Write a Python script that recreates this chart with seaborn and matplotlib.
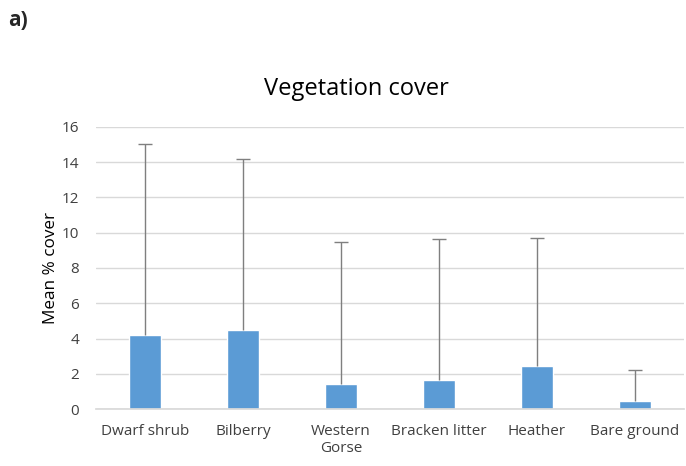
import matplotlib
matplotlib.use("Agg")
import matplotlib.pyplot as plt
import seaborn as sns
import numpy as np
import pandas as pd

categories = ["Dwarf shrub", "Bilberry", "Western\nGorse", "Bracken litter", "Heather", "Bare ground"]
means = [4.2, 4.5, 1.4, 1.65, 2.45, 0.45]
upper = [15.05, 14.2, 9.5, 9.65, 9.7, 2.2]
yticks = [0, 2, 4, 6, 8, 10, 12, 14, 16]

sns.set_theme(style="white")
plt.rcParams['font.family'] = ['Open Sans', 'DejaVu Sans']

df = pd.DataFrame({"cat": categories, "mean": means})
fig = plt.figure(figsize=(6.86, 4.66), dpi=100)
ax = fig.add_axes([0.14, 0.1223, 0.857, 0.6052])
sns.barplot(data=df, x="cat", y="mean", color="#5B9BD5", width=0.33, ax=ax, saturation=1)
err = np.array(upper) - np.array(means)
_, caps, _ = ax.errorbar(np.arange(len(categories)), means, yerr=[np.zeros(len(means)), err],
                         fmt="none", ecolor="#7f7f7f", elinewidth=1, capsize=5, capthick=1)
caps[0].remove()
ax.set_ylim(0, 16)
ax.set_yticks(yticks)
ax.set_xlim(-0.5, len(categories) - 0.5)
ax.yaxis.grid(True, color="#d9d9d9", linewidth=1)
ax.set_axisbelow(True)
for s in ["top", "right", "left"]:
    ax.spines[s].set_visible(False)
ax.spines["bottom"].set_color("#d9d9d9")
ax.tick_params(axis="both", length=0, labelsize=11, colors="#404040")
ax.tick_params(axis="x", pad=11)
ax.tick_params(axis="y", pad=12)
ax.set_xlabel("")
ax.set_ylabel("Mean % cover", fontsize=12.3, color="black", labelpad=2)
fig.text(0.52, 0.81, "Vegetation cover", fontsize=17, color="black", ha="center", va="center")
fig.text(0.012, 0.955, "a)", fontsize=15, fontweight="bold", va="center")
fig.savefig("out.png", dpi=100)
